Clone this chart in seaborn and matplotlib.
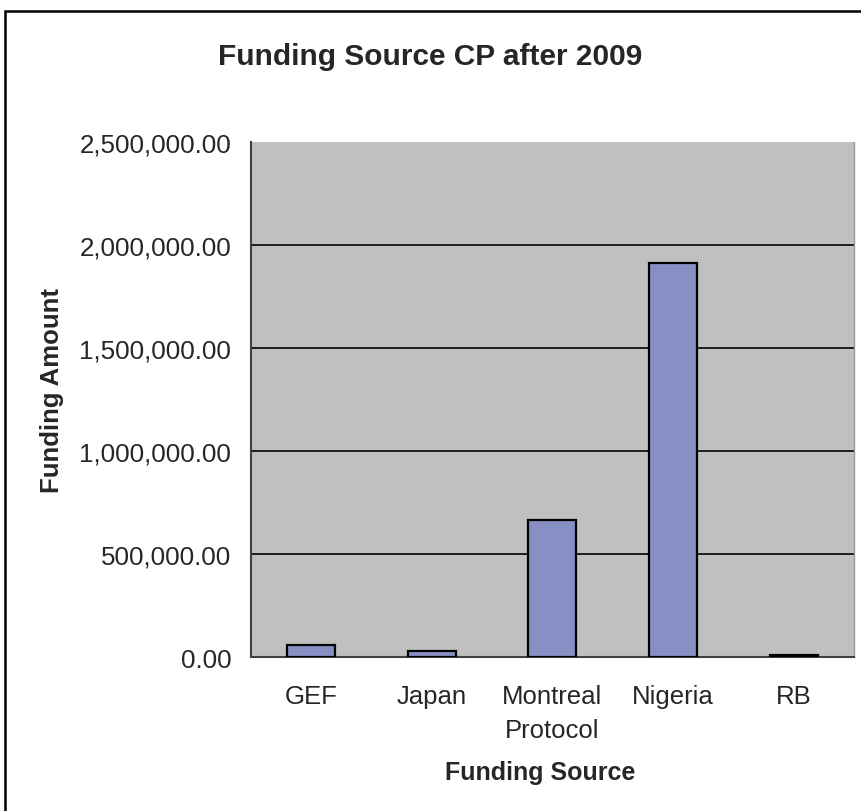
import matplotlib
matplotlib.use("Agg")
import matplotlib.pyplot as plt
import matplotlib.patches as mpatches
from matplotlib.ticker import FuncFormatter, FixedLocator
import seaborn as sns
import pandas as pd

categories = ["GEF", "Japan", "Montreal\nProtocol", "Nigeria", "RB"]
amounts = [60000, 32000, 665000, 1915000, 10000]
yticks = [0, 500000, 1000000, 1500000, 2000000, 2500000]

sns.set_style("white")
plt.rcParams["font.family"] = ["Liberation Sans", "DejaVu Sans"]

df = pd.DataFrame({"source": categories, "amount": amounts})

fig = plt.figure(figsize=(8.62, 8.12), dpi=100)
ax = fig.add_axes([250.7 / 862, 1 - 658.3 / 812, (854 - 250.7) / 862, (658.3 - 143.3) / 812])
ax.set_facecolor("#C0C0C0")

sns.barplot(data=df, x="source", y="amount", color="#888FC5", width=0.4,
            edgecolor="black", linewidth=1.6, saturation=1, ax=ax, zorder=3)

ax.set_ylim(0, 2500000)
ax.set_xlim(-0.5, len(categories) - 0.5)
ax.set_yticks(yticks)
ax.yaxis.set_major_formatter(FuncFormatter(lambda v, p: f"{v:,.2f}"))
ax.yaxis.grid(True, color="black", linewidth=1.2, zorder=1)
ax.set_axisbelow(True)
gl = ax.get_ygridlines()
gl[-1].set_visible(False)

# x ticks: labels at centres, tick marks at boundaries
ax.xaxis.set_minor_locator(FixedLocator([i - 0.5 for i in range(len(categories) + 1)]))
ax.tick_params(axis="x", which="major", length=0, pad=19, labelsize=18.5)
for lab in ax.get_xticklabels():
    lab.set_linespacing(1.55)
ax.tick_params(axis="x", which="minor", length=8, width=1.2, color="#404040", direction="out")
ax.tick_params(axis="y", which="major", length=8, width=1.2, color="#404040",
               direction="out", labelsize=18.7, pad=6)

ax.spines["top"].set_visible(False)
ax.spines["left"].set_color("#404040")
ax.spines["left"].set_linewidth(1.5)
ax.spines["bottom"].set_color("#404040")
ax.spines["bottom"].set_linewidth(1.5)
ax.spines["right"].set_color("#9a9a9a")
ax.spines["right"].set_linewidth(1.0)

ax.set_xlabel("Funding Source", fontsize=18, fontweight="bold")
ax.xaxis.set_label_coords((540 - 250.7) / (854 - 250.7), -(773 - 658.3) / (658.3 - 143.3))
ax.xaxis.label.set_va("center")
ax.set_ylabel("Funding Amount", fontsize=18.5, fontweight="bold")
ax.yaxis.set_label_coords(-(250.7 - 52) / (854 - 250.7), (658.3 - 391) / (658.3 - 143.3))
ax.yaxis.label.set_va("center")

fig.text(430 / 862, 1 - 57 / 812, "Funding Source CP after 2009", ha="center", va="center",
         fontsize=21.5, fontweight="bold")

border = mpatches.Rectangle((5 / 862, -0.05), 1.1, 1 - 12 / 812 + 0.05, transform=fig.transFigure,
                            fill=False, edgecolor="black", linewidth=1.8, clip_on=False)
fig.patches.append(border)

fig.savefig("out.png", dpi=100, facecolor="white")
